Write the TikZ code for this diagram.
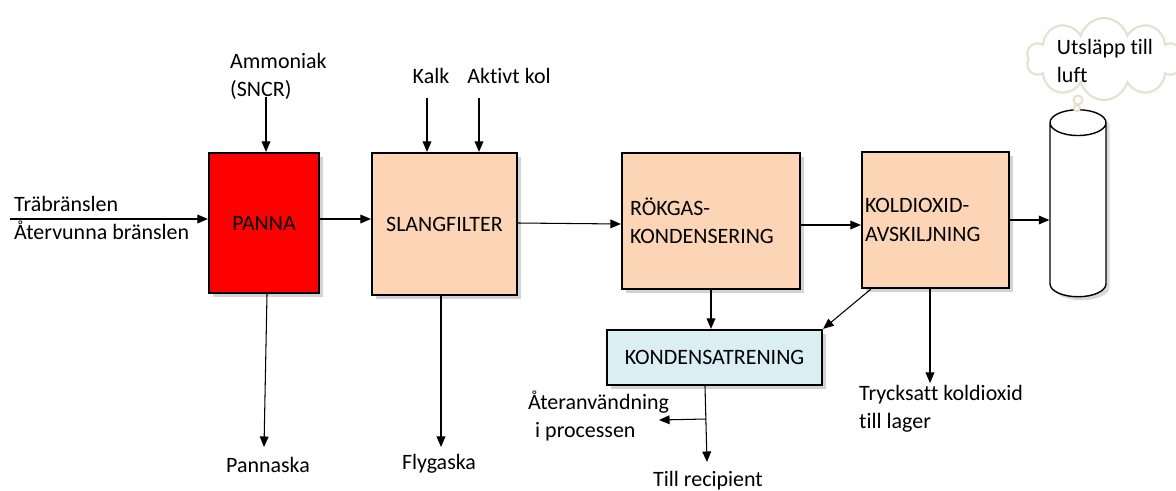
\documentclass[tikz,border=0pt]{standalone}
\usepackage{fontspec}
\setmainfont{Carlito}[Ligatures=NoCommon]
\usetikzlibrary{arrows.meta,calc,shapes.geometric,shapes.symbols,shadows}
\definecolor{PannaClr}{rgb}{1,0,0}
\definecolor{StepClr}{HTML}{FBD5B5}
\definecolor{WaterClr}{HTML}{DAEEF3}
\definecolor{CloudClr}{HTML}{E6E1CE}

\begin{document}
\begin{tikzpicture}[x=0.02cm,y=-0.02cm,
  every node/.style={font=\fontsize{12.5}{16}\selectfont},
  box/.style={draw,line width=1.3pt,inner sep=0pt,drop shadow={shadow xshift=2pt,shadow yshift=-2pt,opacity=.35}},
  flow/.style={-{Triangle[length=6pt,width=5pt]},line width=.6pt}]
\useasboundingbox (0,0) rectangle (1176,490);

\node[box,fill=PannaClr,minimum width=2.2cm,minimum height=2.8cm] (panna) at (264,223) {PANNA};
\node[box,fill=StepClr,minimum width=2.9cm,minimum height=2.84cm] (filter) at (444.5,224) {SLANGFILTER};
\node[box,fill=StepClr,minimum width=3.56cm,minimum height=2.72cm,align=left,text width=3.24cm] (rokgas) at (711,221) {RÖKGAS-\\KONDENSERING\\[3pt]};
\node[box,fill=StepClr,minimum width=2.94cm,minimum height=2.72cm,align=left,text width=2.82cm] (koldioxid) at (935.5,220) {KOLDIOXID-\\AVSKILJNING\\[10pt]};
\node[box,fill=WaterClr,minimum width=4.3cm,minimum height=1.1cm] (kondens) at (714.5,357.5) {KONDENSATRENING};

\node[cloud,cloud puffs=10,cloud ignores aspect,draw=CloudClr,line width=1.2pt,fill=white,inner sep=0pt,minimum width=3.1cm,minimum height=1.64cm] (cloud) at (1104,59) {};
\node[align=left] (utslapp) at (1105,61) {Utsläpp till\\luft};
\node[cylinder,shape border rotate=90,draw,fill=white,line width=.8pt,aspect=2.2,minimum width=1.12cm,minimum height=3.74cm,drop shadow={shadow xshift=2pt,shadow yshift=-2pt,opacity=.3}] (stack) at (1078,214) {};
\draw[CloudClr,line width=1.2pt,fill=white] (1078,100) circle (4.5) (1077,108) circle (3);

\node[align=left,anchor=west] (fuel) at (8,218) {Träbränslen\\Återvunna bränslen};
\node[align=left,anchor=west] (nh3) at (224,76) {Ammoniak\\(SNCR)};
\node (kalk) at (431,76) {Kalk};
\node (kol) at (509,76) {Aktivt kol};
\node (pannaska) at (268,465) {Pannaska};
\node (flygaska) at (439,464) {Flygaska};
\node[align=left,anchor=west] (lager) at (853,409) {Trycksatt koldioxid\\till lager};
\node[align=left,anchor=west] (ater) at (522,416) {Återanvändning\\\hspace*{4pt}i processen};
\node (recipient) at (708,481) {Till recipient};

\coordinate (in) at (10,219);
\coordinate (nh3 in) at (266,97);
\coordinate (kalk in) at (427,98);
\coordinate (kol in) at (479,98);
\coordinate (aska1) at (264,447);
\coordinate (aska2) at (441,447);
\coordinate (co2 out) at (930,383);
\coordinate (split) at (706,419);
\coordinate (ater in) at (659,420);
\coordinate (vatten) at (707,462);

\draw[flow] (in) -- (in -| panna.west);
\draw[flow] (in -| panna.east) -- (in -| filter.west);
\draw[flow] (filter.east |- 0,223) -- (rokgas.west |- 0,224);
\draw[flow] (rokgas.east |- 0,225) -- (koldioxid.west |- 0,225);
\draw[flow] (koldioxid.east |- 0,220) -- (stack.west |- 0,220);
\draw[flow] (nh3 in) -- (nh3 in |- panna.north);
\draw[flow] (kalk in) -- (kalk in |- filter.north);
\draw[flow] (kol in) -- (kol in |- filter.north);
\draw[flow] (aska1 |- panna.south) ++(3,0) -- (aska1);
\draw[flow] (aska2 |- filter.south) -- (aska2);
\draw[flow] (rokgas.south) -- (rokgas.south |- kondens.north);
\draw[flow] ($(koldioxid.south west)+(10,0)$) -- (kondens.north east);
\draw[flow] (co2 out |- koldioxid.south) -- (co2 out);
\draw[flow] (kondens.south -| 705,0) -- (vatten);
\draw[flow] (split) -- (ater in);
\end{tikzpicture}
\end{document}
